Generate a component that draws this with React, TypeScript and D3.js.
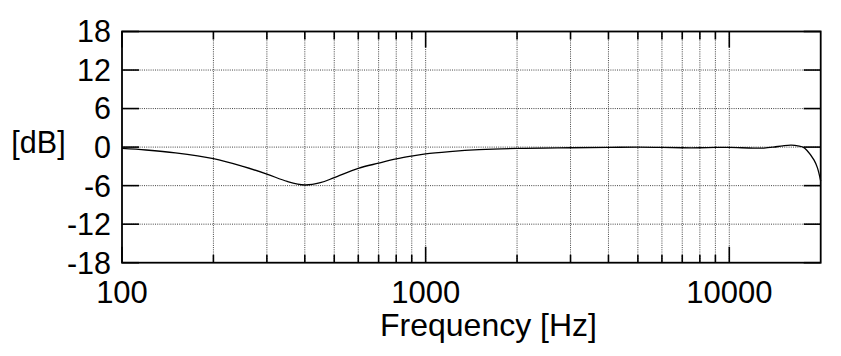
import React from "react";
import * as d3 from "d3";

const freqs = [100, 120, 150, 200, 250, 300, 350, 400, 450, 500, 600, 700, 800, 900, 1000, 1200, 1500, 2000, 3000, 4000, 5000, 6000, 7000, 8000, 9000, 10000, 12000, 13000, 14000, 15000, 16000, 17000, 17500, 18000, 19000, 19500, 20000];
const gains = [-0.2, -0.45, -0.9, -1.8, -3.0, -4.2, -5.35, -5.9, -5.55, -4.75, -3.3, -2.5, -1.85, -1.4, -1.05, -0.7, -0.4, -0.2, -0.1, -0.05, 0, -0.05, -0.1, -0.1, -0.05, -0.05, -0.15, -0.15, 0.0, 0.2, 0.3, 0.15, 0.0, -0.5, -2.0, -3.2, -5.3];
const yTicks = [-18, -12, -6, 0, 6, 12, 18];
const xMajor = [100, 1000, 10000];
const xLabels = ["100", "1000", "10000"];

const W = 841, H = 356;
const L = 122, R = 820.7, T = 31.5, B = 262.7;
const FONT = "'Liberation Sans', Arial, sans-serif";

export default function App() {
  const x = d3.scaleLog().domain([100, 20000]).range([L, R]);
  const y = d3.scaleLinear().domain([-18, 18]).range([B, T]);
  const minor: number[] = [];
  for (const dec of [100, 1000, 10000]) {
    for (let k = 2; k <= 9; k++) {
      const f = dec * k;
      if (f < 20000) minor.push(f);
    }
  }
  const gridX = [...minor, 1000, 10000];
  const line = d3
    .line<number>()
    .x((_, i) => x(freqs[i]))
    .y((d) => y(d))
    .curve(d3.curveCatmullRom.alpha(0.5));
  const path = line(gains) || "";
  const grid = { stroke: "#444", strokeWidth: 1, strokeDasharray: "1 1.2" };
  return (
    <svg width={W} height={H} style={{ position: "absolute", left: 0, top: 0 }} fontFamily={FONT}>
      <rect x={0} y={0} width={W} height={H} fill="#fff" />
      {gridX.map((f) => (
        <line key={"gx" + f} x1={x(f)} x2={x(f)} y1={T} y2={B} {...grid} />
      ))}
      {yTicks.filter((v) => v > -18 && v < 18).map((v) => (
        <line key={"gy" + v} x1={L} x2={R} y1={y(v)} y2={y(v)} {...grid} />
      ))}
      {yTicks.map((v) => (
        <g key={"yt" + v}>
          <line x1={L} x2={L + 17} y1={y(v)} y2={y(v)} stroke="#000" strokeWidth={1.6} />
          <line x1={R - 17} x2={R} y1={y(v)} y2={y(v)} stroke="#000" strokeWidth={1.6} />
          <text x={111} y={y(v) + 10.9} textAnchor="end" fontSize={30.5} fill="#000">{v}</text>
        </g>
      ))}
      {minor.map((f) => (
        <g key={"mt" + f}>
          <line x1={x(f)} x2={x(f)} y1={B} y2={B - 8} stroke="#000" strokeWidth={1.6} />
          <line x1={x(f)} x2={x(f)} y1={T} y2={T + 8} stroke="#000" strokeWidth={1.6} />
        </g>
      ))}
      {xMajor.map((f, i) => (
        <g key={"Mt" + f}>
          <line x1={x(f)} x2={x(f)} y1={B} y2={B - 16} stroke="#000" strokeWidth={1.6} />
          <line x1={x(f)} x2={x(f)} y1={T} y2={T + 16} stroke="#000" strokeWidth={1.6} />
          <text x={x(f)} y={303} textAnchor="middle" fontSize={31} fill="#000">{xLabels[i]}</text>
        </g>
      ))}
      <path d={path} fill="none" stroke="#000" strokeWidth={1.3} />
      <rect x={L} y={T} width={R - L} height={B - T} fill="none" stroke="#000" strokeWidth={1.8} />
      <text x={38.5} y={153} textAnchor="middle" fontSize={30.5} fill="#000">[dB]</text>
      <text x={488.5} y={336} textAnchor="middle" fontSize={32} fill="#000">Frequency [Hz]</text>
    </svg>
  );
}
